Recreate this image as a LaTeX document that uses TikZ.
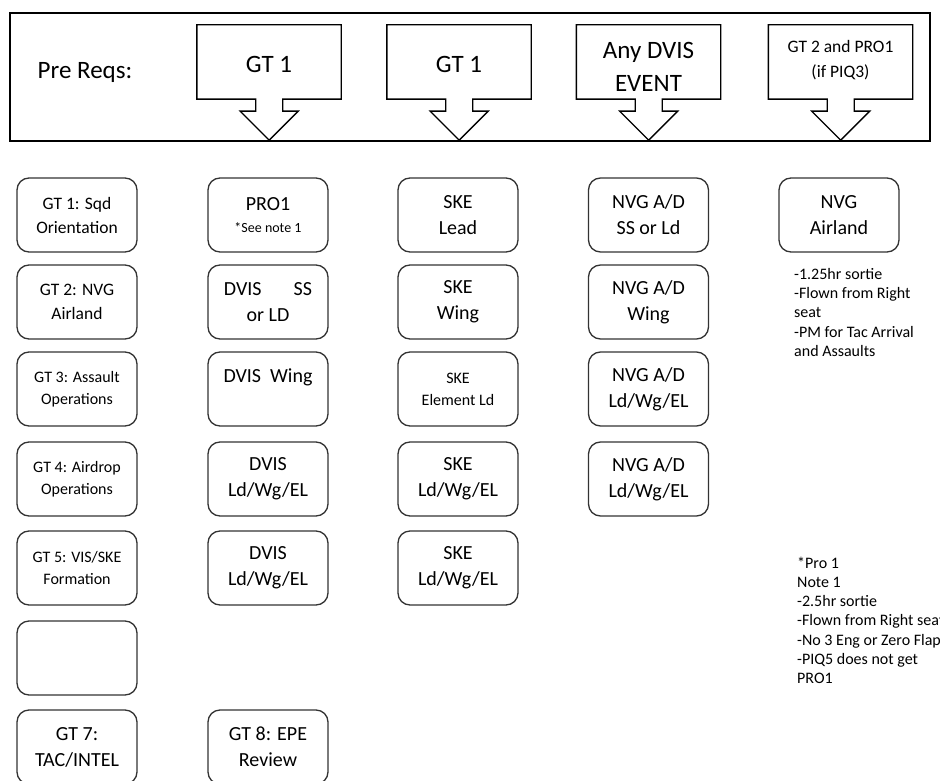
\documentclass[tikz,border=0pt]{standalone}
\usepackage{fontspec}
\setmainfont{Carlito}
\usetikzlibrary{positioning}
\newcommand\reqfont{\fontsize{25}{33}\selectfont}
\newcommand\reqsmall{\fontsize{17.5}{25}\selectfont}
\tikzset{
  prebox/.style={draw=black,line width=2pt},
  reqnode/.style={minimum width=144pt,minimum height=74pt,inner sep=0pt},
  reqshape/.style={draw=black,line width=1.4pt,line join=miter},
  stepbox/.style={draw=black!80,line width=1.3pt,rounded corners=12pt,
    minimum width=120pt,minimum height=74pt,inner sep=0pt,align=center},
  tbig/.style={font=\fontsize{20}{26}\selectfont},
  tmid/.style={font=\fontsize{17.5}{24}\selectfont},
  tsmall/.style={font=\fontsize{16}{22}\selectfont},
  notetext/.style={anchor=north west,align=left,inner sep=0pt,
    font=\fontsize{16}{19.3}\selectfont}}

\begin{document}
\begin{tikzpicture}[x=1pt,y=-1pt]
\clip (0,0) rectangle (940,781);
\fill[white] (0,0) rectangle (940,781);
% pre reqs banner
\draw[prebox] (10,13) rectangle (930,141);
\node[font=\reqfont] (prereq) at (85,72) {Pre Reqs:};
\foreach \cx/\ty/\name/\f/\txt in {269/64/reqa/\reqfont/{GT 1},459/64/reqb/\reqfont/{GT 1},
  648.5/66.5/reqc/\reqfont/{Any DVIS\\EVENT},840.5/60/reqd/\reqsmall/{GT 2 and PRO1\\(if PIQ3)}}{
  \node[reqnode] (\name) at (\cx,62) {};
  \node[font=\f,align=center] (\name txt) at (\cx,\ty) {\txt};
  \draw[reqshape] (\name.north west) -- (\name.north east) -- (\name.south east)
    -- ++(-58.5,0) -- ++(0,12) -- ++(15.5,0) -- ++(-29,29) -- ++(-29,-29)
    -- ++(15.5,0) -- ++(0,-12) -- (\name.south west) -- cycle;
}
% column 1
\foreach \y/\name/\sty/\txt in {215/gtone/tmid/{GT 1: Sqd\\Orientation},
  302/gttwo/tmid/{GT 2: NVG\\Airland},389/gtthree/tsmall/{GT 3: Assault\\Operations},
  479/gtfour/tsmall/{GT 4: Airdrop\\Operations},568/gtfive/tsmall/{GT 5: VIS/SKE\\Formation},
  658/gtsix/tsmall/{},747/gtseven/tbig/{GT 7:\\TAC/INTEL}}
  \node[stepbox,\sty] (\name) at (77,\y) {\txt};
% column 2
\foreach \y/\name/\sty/\txt in {215/proone/tbig/{PRO1\\[-4pt]{\fontsize{14}{18}\selectfont *See note 1}},
  302/dvisss/tbig/{DVIS\hspace{1.6em}SS\\or LD},389/dviswing/tbig/{DVIS\ \ Wing\\\mbox{}},
  479/dvisall/tbig/{DVIS\\Ld/Wg/EL},568/dvisel/tbig/{DVIS\\Ld/Wg/EL},
  747/gteight/tbig/{GT 8: EPE\\Review}}
  \node[stepbox,\sty] (\name) at (268,\y) {\txt};
% column 3
\foreach \y/\name/\sty/\txt in {215/skelead/tbig/{SKE\\Lead},302/skewing/tbig/{SKE\\Wing},
  389/skeel/tsmall/{SKE\\Element Ld},479/skeall/tbig/{SKE\\Ld/Wg/EL},
  568/skeall2/tbig/{SKE\\Ld/Wg/EL}}
  \node[stepbox,\sty] (\name) at (458,\y) {\txt};
% column 4
\foreach \y/\name/\txt in {215/nvgld/{NVG A/D\\SS or Ld},302/nvgwing/{NVG A/D\\Wing},
  389/nvgall/{NVG A/D\\Ld/Wg/EL},479/nvgall2/{NVG A/D\\Ld/Wg/EL}}
  \node[stepbox,tbig] (\name) at (648.5,\y) {\txt};
% column 5
\node[stepbox,tbig] (nvgairland) at (839,215) {NVG\\Airland};
\node[notetext] (airlandnote) at (794,268)
  {-1.25hr sortie\\-Flown from Right\\seat\\-PM for Tac Arrival\\and Assaults};
\node[notetext] (pronote) at (797,556.5)
  {*Pro 1\\Note 1\\-2.5hr sortie\\-Flown from Right seat\\-No 3 Eng or Zero Flaps\\-PIQ5 does not get\\PRO1};
\end{tikzpicture}
\end{document}
